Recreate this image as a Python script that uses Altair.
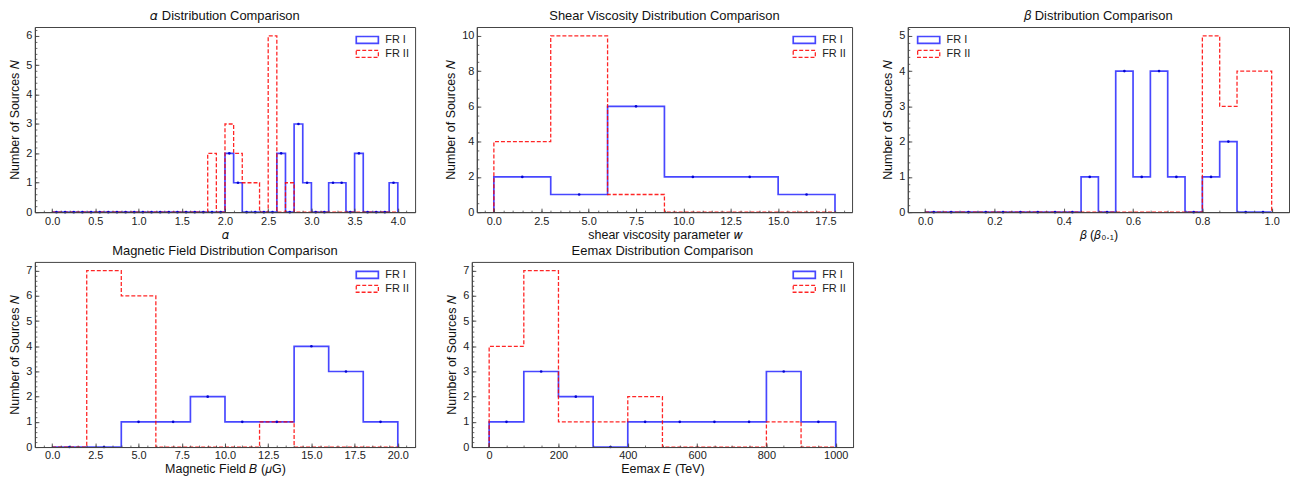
import altair as alt
import pandas as pd

SERIES = ["FR I", "FR II"]
COLORS = ["#0000ff", "#ff0000"]

# ---- alpha (bins of 0.1 from 0.0 to 4.0)
ALPHA_START, ALPHA_BIN = 0.0, 0.1
ALPHA_FR1 = [0, 0, 0, 0, 0, 0, 0, 0, 0, 0,
             0, 0, 0, 0, 0, 0, 0, 0, 0, 0,
             2, 1, 0, 0, 0, 0, 2, 0, 3, 1,
             0, 0, 1, 1, 0, 2, 0, 0, 0, 1]
ALPHA_FR2 = [0, 0, 0, 0, 0, 0, 0, 0, 0, 0,
             0, 0, 0, 0, 0, 0, 0, 0, 2, 0,
             3, 2, 1, 1, 0, 6, 0, 1, 0, 0,
             0, 0, 0, 0, 0, 0, 0, 0, 0, 0]
ALPHA_XDOM = [-0.2, 4.2]
ALPHA_YDOM = [0, 6.3]
ALPHA_XMAJ = [0.0, 0.5, 1.0, 1.5, 2.0, 2.5, 3.0, 3.5, 4.0]
ALPHA_XMIN = [round(-0.2 + 0.1 * i, 2) for i in range(45)]
ALPHA_YMAJ = [0, 1, 2, 3, 4, 5, 6]
ALPHA_YMIN = [round(0.2 * i, 2) for i in range(32)]

# ---- shear viscosity (bins of 3 from 0 to 18)
SHEAR_START, SHEAR_BIN = 0.0, 3.0
SHEAR_FR1 = [2, 1, 6, 2, 2, 1]
SHEAR_FR2 = [4, 10, 1, 0, 0, 0]
SHEAR_XDOM = [-0.9, 18.9]
SHEAR_YDOM = [0, 10.5]
SHEAR_XMAJ = [0.0, 2.5, 5.0, 7.5, 10.0, 12.5, 15.0, 17.5]
SHEAR_XMIN = [round(-0.5 + 0.5 * i, 2) for i in range(40)]
SHEAR_YMAJ = [0, 2, 4, 6, 8, 10]
SHEAR_YMIN = [round(0.5 * i, 2) for i in range(22)]

# ---- beta (bins of 0.05 from 0 to 1)
BETA_START, BETA_BIN = 0.0, 0.05
BETA_FR1 = [0, 0, 0, 0, 0, 0, 0, 0, 0, 1, 0, 4, 1, 4, 1, 0, 1, 2, 0, 0]
BETA_FR2 = [0, 0, 0, 0, 0, 0, 0, 0, 0, 0, 0, 0, 0, 0, 0, 0, 5, 3, 4, 4]
BETA_XDOM = [-0.05, 1.05]
BETA_YDOM = [0, 5.25]
BETA_XMAJ = [0.0, 0.2, 0.4, 0.6, 0.8, 1.0]
BETA_XMIN = [round(-0.05 + 0.05 * i, 3) for i in range(23)]
BETA_YMAJ = [0, 1, 2, 3, 4, 5]
BETA_YMIN = [round(0.2 * i, 2) for i in range(27)]

# ---- magnetic field (bins of 2 from 0 to 20)
MAG_START, MAG_BIN = 0.0, 2.0
MAG_FR1 = [0, 0, 1, 1, 2, 1, 1, 4, 3, 1]
MAG_FR2 = [0, 7, 6, 0, 0, 0, 1, 0, 0, 0]
MAG_XDOM = [-1, 21]
MAG_YDOM = [0, 7.35]
MAG_XMAJ = [0.0, 2.5, 5.0, 7.5, 10.0, 12.5, 15.0, 17.5, 20.0]
MAG_XMIN = [round(-1 + 0.5 * i, 2) for i in range(45)]
MAG_YMAJ = [0, 1, 2, 3, 4, 5, 6, 7]
MAG_YMIN = [round(0.2 * i, 2) for i in range(37)]

# ---- Eemax (bins of 100 from 0 to 1000)
EE_START, EE_BIN = 0.0, 100.0
EE_FR1 = [1, 3, 2, 0, 1, 1, 1, 1, 3, 1]
EE_FR2 = [4, 7, 1, 1, 2, 0, 0, 0, 1, 0]
EE_XDOM = [-50, 1050]
EE_YDOM = [0, 7.35]
EE_XMAJ = [0, 200, 400, 600, 800, 1000]
EE_XMIN = [-50 + 50 * i for i in range(23)]
EE_YMAJ = [0, 1, 2, 3, 4, 5, 6, 7]
EE_YMIN = [round(0.2 * i, 2) for i in range(37)]

FONT = "Liberation Sans, DejaVu Sans"
FRAME = "#444444"
H = 186

LEGEND_PATH = "M-1.85,-0.58H1.85V0.58H-1.85Z"
IND = dict(color="independent", strokeDash="independent", opacity="independent",
           strokeWidth="independent")


def step_table(start, width, fr1, fr2):
    rows = []
    for s, counts in zip(SERIES, [fr1, fr2]):
        n = len(counts)
        pts = [(start, 0)] + [(start + i * width, c) for i, c in enumerate(counts)] + [(start + n * width, 0)]
        for k, (x, y) in enumerate(pts):
            rows.append({"series": s, "order": k, "x": x, "y": y})
    return pd.DataFrame(rows)


def dot_table(start, width, fr1):
    return pd.DataFrame({"x": [start + (i + 0.5) * width for i in range(len(fr1))], "y": fr1})


def panel(title, start, width, fr1, fr2, xdom, ydom, xmaj, xmin, ymaj, ymin, xfmt, xtitle, lx, ly, w):
    steps = step_table(start, width, fr1, fr2)
    dots = dot_table(start, width, fr1)
    xs = alt.Scale(domain=xdom, nice=False, zero=False)
    ys = alt.Scale(domain=ydom, nice=False, zero=False)

    ax_lab_x = alt.Axis(values=xmaj, format=xfmt, ticks=False, grid=False, domain=True,
                        domainColor=FRAME, labelPadding=3, labelFontSize=11, labelColor="#222",
                        title=xtitle, titlePadding=2, titleFontSize=12.5, titleFontWeight="normal",
                        titleColor="#111", orient="bottom", zindex=1, labelFlush=False,
                        labelOverlap=False)
    ax_lab_y = alt.Axis(values=ymaj, format="d", ticks=False, grid=False, domain=True,
                        domainColor=FRAME, labelPadding=3, labelFontSize=11, labelColor="#222",
                        title="Number of Sources 𝑁", titlePadding=4, titleFontSize=12.5,
                        titleFontWeight="normal", titleColor="#111", orient="left", zindex=1,
                        labelOverlap=False)
    ax_maj_x = alt.Axis(values=xmaj, labels=False, domain=False, grid=False, ticks=True, tickSize=4,
                        offset=-4, tickColor=FRAME, tickWidth=0.9, title=None, orient="bottom", zindex=1)
    ax_maj_y = alt.Axis(values=ymaj, labels=False, domain=False, grid=False, ticks=True, tickSize=4,
                        offset=-4, tickColor=FRAME, tickWidth=0.9, title=None, orient="left", zindex=1)
    ax_min_x = alt.Axis(values=xmin, labels=False, domain=False, grid=False, ticks=True, tickSize=2,
                        offset=-2, tickColor=FRAME, tickWidth=0.8, title=None, orient="bottom", zindex=1)
    ax_min_y = alt.Axis(values=ymin, labels=False, domain=False, grid=False, ticks=True, tickSize=2,
                        offset=-2, tickColor=FRAME, tickWidth=0.8, title=None, orient="left", zindex=1)

    legend = alt.Legend(orient="none", legendX=lx, legendY=ly, title=None, symbolType=LEGEND_PATH,
                        symbolSize=144, symbolStrokeWidth=1.5, labelFontSize=11, labelOffset=11,
                        rowPadding=0, padding=0, labelColor="#222")

    lines = alt.Chart(steps).mark_line(interpolate="step-after").encode(
        x=alt.X("x:Q", scale=xs, axis=ax_lab_x),
        y=alt.Y("y:Q", scale=ys, axis=ax_lab_y),
        color=alt.Color("series:N", scale=alt.Scale(domain=SERIES, range=COLORS), legend=legend),
        strokeDash=alt.StrokeDash("series:N", scale=alt.Scale(domain=SERIES, range=[[1, 0], [4, 2]]),
                                  legend=legend),
        opacity=alt.Opacity("series:N", scale=alt.Scale(domain=SERIES, range=[0.72, 0.85]), legend=None),
        strokeWidth=alt.StrokeWidth("series:N", scale=alt.Scale(domain=SERIES, range=[1.7, 1.3]),
                                    legend=None),
        order="order:Q",
    )
    pts = alt.Chart(dots).mark_point(shape="circle", filled=True, size=7, color="#0000cc",
                                     opacity=0.95).encode(
        x=alt.X("x:Q", scale=xs, axis=ax_maj_x),
        y=alt.Y("y:Q", scale=ys, axis=ax_maj_y),
    )
    minor = alt.Chart(dots).mark_point(opacity=0).encode(
        x=alt.X("x:Q", scale=xs, axis=ax_min_x),
        y=alt.Y("y:Q", scale=ys, axis=ax_min_y),
    )
    return alt.layer(lines, pts, minor).resolve_axis(x="independent", y="independent").properties(
        width=w, height=H,
        title=alt.TitleParams(title, fontSize=13, fontWeight="normal", offset=4, frame="group",
                              anchor="middle", color="#111", font=FONT),
    )


p1 = panel("𝛼 Distribution Comparison", ALPHA_START, ALPHA_BIN, ALPHA_FR1, ALPHA_FR2, ALPHA_XDOM,
           ALPHA_YDOM, ALPHA_XMAJ, ALPHA_XMIN, ALPHA_YMAJ, ALPHA_YMIN, ".1f", "𝛼", 327, 6, 382)
p2 = panel("Shear Viscosity Distribution Comparison", SHEAR_START, SHEAR_BIN, SHEAR_FR1, SHEAR_FR2,
           SHEAR_XDOM, SHEAR_YDOM, SHEAR_XMAJ, SHEAR_XMIN, SHEAR_YMAJ, SHEAR_YMIN, ".1f",
           "shear viscosity parameter 𝑤", 322, 6, 377)
p3 = panel("𝛽 Distribution Comparison", BETA_START, BETA_BIN, BETA_FR1, BETA_FR2, BETA_XDOM,
           BETA_YDOM, BETA_XMAJ, BETA_XMIN, BETA_YMAJ, BETA_YMIN, ".1f", "𝛽 (𝛽₀.₁)", 14, 6, 383)
p4 = panel("Magnetic Field Distribution Comparison", MAG_START, MAG_BIN, MAG_FR1, MAG_FR2, MAG_XDOM,
           MAG_YDOM, MAG_XMAJ, MAG_XMIN, MAG_YMAJ, MAG_YMIN, ".1f", "Magnetic Field 𝐵 (𝜇G)",
           327, 6, 382)
p5 = panel("Eemax Distribution Comparison", EE_START, EE_BIN, EE_FR1, EE_FR2, EE_XDOM, EE_YDOM,
           EE_XMAJ, EE_XMIN, EE_YMAJ, EE_YMIN, "d", "Eemax 𝐸 (TeV)", 327, 6, 383)

row1 = alt.hconcat(p1, p2, p3, spacing=28).resolve_scale(**IND).resolve_legend(
    color="independent", strokeDash="independent")
row2 = alt.hconcat(p4, p5, spacing=29).resolve_scale(**IND).resolve_legend(
    color="independent", strokeDash="independent")

chart = alt.vconcat(row1, row2, spacing=3).resolve_scale(**IND).resolve_legend(
    color="independent", strokeDash="independent"
).properties(
    padding={"left": 0, "top": 0, "right": 0, "bottom": 0}
).configure(font=FONT).configure_axis(minExtent=0, maxExtent=200).configure_view(
    stroke=FRAME, strokeWidth=1
).configure_legend(labelFont=FONT)

chart.save("out.html", embed_options={"renderer": "svg", "actions": False})
